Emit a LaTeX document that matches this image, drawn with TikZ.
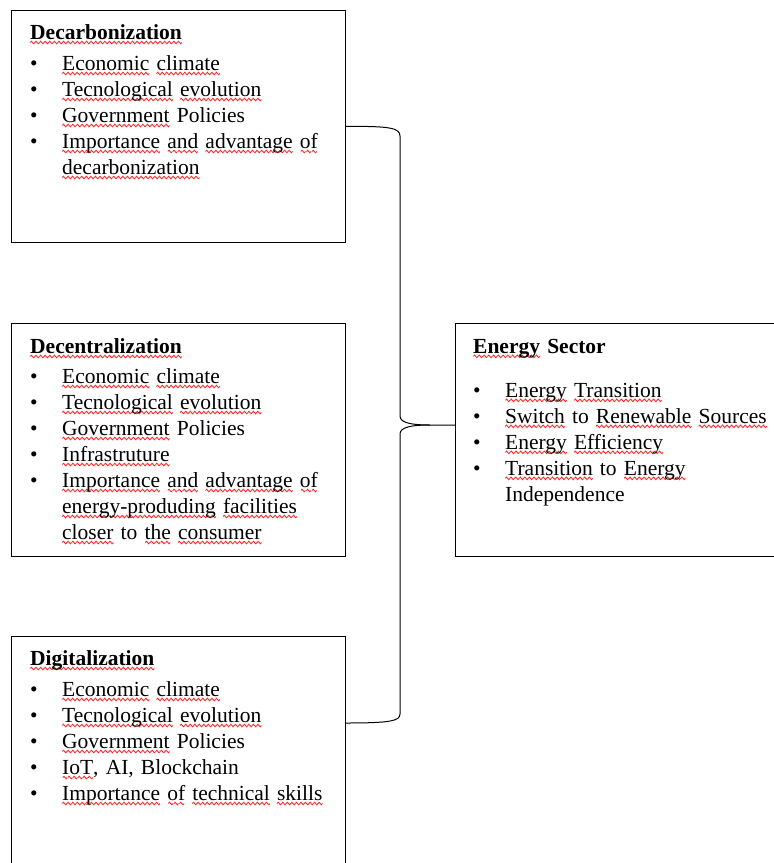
\documentclass[tikz,border=0pt]{standalone}
\usepackage{fontspec}
\setmainfont{Liberation Serif}
\usepackage{tikz}

\newsavebox{\wavebox}
\newsavebox{\wordbox}
\newcommand{\wv}[1]{\sbox{\wordbox}{#1}\rlap{\raisebox{-4.5pt}{\hbox to \wd\wordbox{\xleaders\copy\wavebox\hfil}}}\usebox{\wordbox}}
\newcommand{\bitem}[1]{\par\hangindent=32pt\hangafter=1\noindent\makebox[32pt][l]{\textbullet}#1}

\tikzset{
  box/.style={draw, line width=0.9pt, rectangle, inner sep=0pt, anchor=north west},
  boxtext/.style={inner sep=0pt, anchor=north west, text width=315pt, align=left,
    font=\fontsize{21.5}{26}\selectfont},
  brace/.style={line width=1pt}
}

\begin{document}
\sbox{\wavebox}{\begin{pgfpicture}
  \pgfpathrectangle{\pgfpoint{0pt}{-1.4pt}}{\pgfpoint{4.5pt}{2.8pt}}
  \pgfusepath{use as bounding box}
  \pgfsetlinewidth{0.85pt}\pgfsetstrokecolor{red!85!white}
  \pgfpathmoveto{\pgfpointorigin}
  \pgfpathsine{\pgfpoint{1.125pt}{1.3pt}}\pgfpathcosine{\pgfpoint{1.125pt}{-1.3pt}}
  \pgfpathsine{\pgfpoint{1.125pt}{-1.3pt}}\pgfpathcosine{\pgfpoint{1.125pt}{1.3pt}}
  \pgfusepath{stroke}
\end{pgfpicture}}%
\begin{tikzpicture}[x=1pt, y=-1pt]

\clip (0, 0) rectangle (774, 863);

\node[box, minimum width=334pt, minimum height=232pt] (decarb) at (11, 10) {};
\node[box, minimum width=334pt, minimum height=233pt] (decentral) at (11, 323) {};
\node[box, minimum width=334pt, minimum height=250pt] (digital) at (11, 636) {};
\node[box, minimum width=330pt, minimum height=233pt] (energy) at (455, 323) {};

\node[boxtext] (decarbtext) at ([xshift=19pt, yshift=-14.3pt]decarb.north west) {%
\textbf{\wv{Decarbonization}}\par\vspace{5pt}
\bitem{\wv{Economic} \wv{climate}}
\bitem{\wv{Tecnological} \wv{evolution}}
\bitem{\wv{Government} Policies}
\bitem{\wv{Importance} \wv{and} \wv{advantage} \wv{of}\newline\wv{decarbonization}}\par};

\node[boxtext] (decentraltext) at ([xshift=19pt, yshift=-15.3pt]decentral.north west) {%
\textbf{\wv{Decentralization}}\par\vspace{4pt}
\bitem{\wv{Economic} \wv{climate}}
\bitem{\wv{Tecnological} \wv{evolution}}
\bitem{\wv{Government} Policies}
\bitem{\wv{Infrastruture}}
\bitem{\wv{Importance} \wv{and} \wv{advantage} \wv{of}\newline\wv{energy-produding} \wv{facilities}\newline\wv{closer} to \wv{the} \wv{consumer}}\par};

\node[boxtext] (digitaltext) at ([xshift=19pt, yshift=-14.3pt]digital.north west) {%
\textbf{\wv{Digitalization}}\par\vspace{5pt}
\bitem{\wv{Economic} \wv{climate}}
\bitem{\wv{Tecnological} \wv{evolution}}
\bitem{\wv{Government} Policies}
\bitem{\wv{IoT}, AI, Blockchain}
\bitem{\wv{Importance} \wv{of} \wv{technical} \wv{skills}}\par};

\node[boxtext] (energytext) at ([xshift=18pt, yshift=-15.8pt]energy.north west) {%
\textbf{\wv{Energy} Sector}\par\vspace{18pt}
\bitem{\wv{Energy} \wv{Transition}}
\bitem{\wv{Switch} to \wv{Renewable} \wv{Sources}}
\bitem{\wv{Energy} \wv{Efficiency}}
\bitem{\wv{Transition} to \wv{Energy}\newline Independence}\par};

\coordinate (tip) at (430, 425);
\coordinate (digin) at ([yshift=-87pt]digital.north east);

\draw[brace] (decarb.east) .. controls (390, 126) and (400, 128) .. (400, 136)
  -- (400, 416) .. controls (400, 423) and (412, 425) .. (tip) -- (energy.west |- tip);
\draw[brace] (tip) .. controls (412, 425) and (400, 427) .. (400, 434)
  -- (400, 714) .. controls (400, 721) and (390, 723) .. (digin);

\end{tikzpicture}
\end{document}
